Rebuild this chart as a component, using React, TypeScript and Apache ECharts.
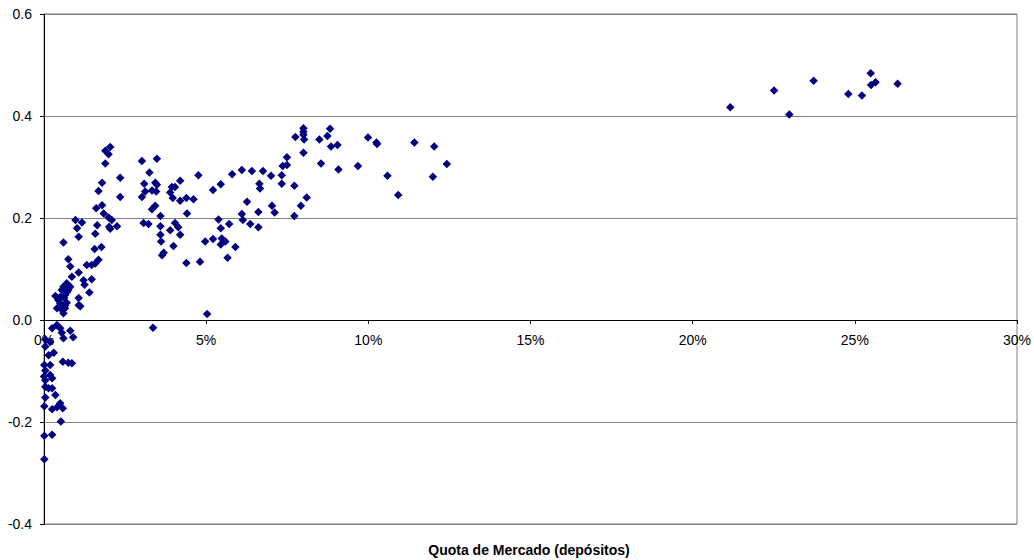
import React, { useEffect, useRef } from "react";
import * as echarts from "echarts";

// Market share (deposits), in %
const quota: number[] = [
  // 1–2.5% band
  2.04, 1.89, 1.99, 1.89, 2.35, 1.79, 1.68, 2.35, 1.79, 1.61, 1.84, 1.99, 2.09, 2.04, 2.25, 2.01,
  0.97, 1.17, 1.02, 1.07, 1.64, 1.58, 0.60, 1.77, 1.56, 0.75, 0.81, 1.68, 1.58, 1.47, 1.32,
  0.86, 1.07, 1.47, 1.22, 1.25, 1.40, 0.70, 0.60, 0.55, 0.75, 0.35, 0.65, 1.07, 0.40, 0.55,
  0.60, 1.12, 0.70, 0.50, 0.62, 0.71, 0.81, 0.44, 0.65, 0.50, 1.07, 0.65,
  // negative cluster near 0%
  0.40, 0.50, 0.55, 0.60, 0.81, 0.90, 0.25, 0.19, 0.04, 0.04, 0.30, 0.14, 0.58, 0.75, 0.86,
  0.01, 0.19, 0.04, 0.00, 0.19, 0.04, 0.25, 0.04, 0.14, 0.25, 0.04, 0.35, 0.50, 0.40, 0.25,
  0.58, 0.01, 0.52, 0.01, 0.25, 0.01,
  // 3–7.5% band
  3.02, 3.48, 3.25, 3.09, 3.43, 3.48, 3.12, 3.33, 3.46, 3.02, 3.94, 4.04, 4.20, 3.89, 3.97,
  4.20, 4.39, 4.61, 4.76, 3.43, 3.33, 4.41, 3.59, 3.07, 3.22, 3.59, 4.04, 4.14, 3.89, 4.20,
  3.59, 3.61, 3.99, 3.69, 3.64, 4.39, 4.81, 4.97, 5.21, 5.21, 5.45, 5.80, 6.10, 6.41, 6.75,
  7.00, 7.33, 7.36, 7.49, 7.49, 6.64, 6.66, 7.33, 6.26, 6.10, 6.13, 6.36, 6.61, 6.61, 7.03,
  7.11, 5.38, 5.45, 5.71, 5.48, 5.59, 5.45, 5.66, 5.90, 5.03, 3.36,
  // 7.5–12.5% band
  7.75, 8.00, 8.00, 8.00, 8.02, 8.00, 7.72, 8.10, 7.92, 7.72, 8.49, 8.74, 8.82, 8.85, 9.05,
  8.54, 9.08, 9.68, 9.99, 10.25, 10.27, 10.59, 10.92, 11.42, 12.03, 11.99, 12.42,
  // large banks
  21.16, 22.51, 22.98, 23.73, 24.80, 25.22, 25.49, 25.50, 25.64, 26.32,
];

const valor: number[] = [
  0.339, 0.332, 0.325, 0.307, 0.279, 0.269, 0.253, 0.241, 0.225, 0.219, 0.209, 0.201, 0.196, 0.179, 0.184, 0.183,
  0.196, 0.191, 0.180, 0.163, 0.186, 0.169, 0.152, 0.143, 0.139, 0.119, 0.105, 0.118, 0.111, 0.108, 0.108,
  0.085, 0.093, 0.080, 0.078, 0.069, 0.054, 0.072, 0.065, 0.059, 0.059, 0.047, 0.049, 0.043, 0.023, 0.020,
  0.013, 0.027, 0.034, 0.033, 0.043, 0.055, 0.065, 0.039, 0.029, 0.045, 0.029, 0.023,
  -0.010, -0.016, -0.025, -0.036, -0.021, -0.034, -0.016, -0.043, -0.038, -0.052, -0.064, -0.069, -0.082, -0.084, -0.085,
  -0.088, -0.088, -0.099, -0.111, -0.108, -0.118, -0.114, -0.131, -0.134, -0.134, -0.152, -0.147, -0.163, -0.171, -0.175,
  -0.173, -0.169, -0.199, -0.227, -0.225, -0.273,
  0.312, 0.316, 0.289, 0.267, 0.269, 0.265, 0.252, 0.254, 0.252, 0.241, 0.261, 0.261, 0.273, 0.250, 0.239,
  0.234, 0.239, 0.237, 0.284, 0.224, 0.217, 0.209, 0.204, 0.190, 0.188, 0.184, 0.190, 0.182, 0.176, 0.167,
  0.167, 0.154, 0.145, 0.132, 0.127, 0.112, 0.114, 0.154, 0.159, 0.255, 0.266, 0.286, 0.294, 0.292, 0.292,
  0.283, 0.284, 0.302, 0.319, 0.304, 0.267, 0.258, 0.267, 0.232, 0.208, 0.196, 0.188, 0.212, 0.182, 0.224,
  0.211, 0.197, 0.180, 0.188, 0.160, 0.154, 0.148, 0.122, 0.143, 0.012, -0.015,
  0.359, 0.376, 0.369, 0.363, 0.354, 0.328, 0.263, 0.240, 0.224, 0.204, 0.354, 0.361, 0.375, 0.340, 0.343,
  0.307, 0.295, 0.302, 0.358, 0.348, 0.345, 0.283, 0.245, 0.348, 0.340, 0.281, 0.306,
  0.417, 0.450, 0.403, 0.469, 0.443, 0.440, 0.484, 0.461, 0.466, 0.463,
];

const xTicks = { min: 0, max: 30, interval: 5 };
const yTicks = { min: -0.4, max: 0.6, interval: 0.2 };
const xTitle = "Quota de Mercado (depósitos)";

const FONT = "Liberation Sans, Arial, sans-serif";
const GRID = { left: 44, right: 17, top: 14, bottom: 36 };
const HEIGHT = 560;

export default function App() {
  const ref = useRef<HTMLDivElement>(null);
  useEffect(() => {
    if (!ref.current) return;
    const chart = echarts.init(ref.current, null, { renderer: "svg" });
    const data = quota.map((q, i) => [q, valor[i]]);
    // pixel distance between the bottom of the plot and the y = 0 line
    const plotH = HEIGHT - GRID.top - GRID.bottom;
    const zeroOffset = (plotH * (0 - yTicks.min)) / (yTicks.max - yTicks.min);
    chart.setOption({
      animation: false,
      backgroundColor: "#ffffff",
      grid: {
        ...GRID,
        show: true,
        borderColor: "#808080",
        borderWidth: 1,
        backgroundColor: "transparent",
      },
      xAxis: {
        type: "value",
        position: "bottom",
        offset: -zeroOffset,
        min: xTicks.min,
        max: xTicks.max,
        interval: xTicks.interval,
        axisLine: { show: true, onZero: false, lineStyle: { color: "#000000", width: 1 } },
        axisTick: { show: true, length: 4, lineStyle: { color: "#000000" } },
        axisLabel: {
          formatter: (v: number) => `${v}%`,
          color: "#000000",
          fontSize: 14,
          fontFamily: FONT,
          margin: 13,
        },
        splitLine: { show: false },
      },
      yAxis: {
        type: "value",
        min: yTicks.min,
        max: yTicks.max,
        interval: yTicks.interval,
        axisLine: { show: true, onZero: false, lineStyle: { color: "#000000", width: 1 } },
        axisTick: { show: true, length: 4, lineStyle: { color: "#000000" } },
        axisLabel: {
          formatter: (v: number) => (Math.abs(v) < 1e-9 ? "0.0" : v.toFixed(1)),
          color: "#000000",
          fontSize: 14,
          fontFamily: FONT,
          margin: 12,
        },
        splitLine: { show: true, lineStyle: { color: "#808080", width: 1 } },
      },
      graphic: [
        {
          type: "text",
          x: 529,
          y: 550,
          style: {
            text: xTitle,
            textAlign: "center",
            textVerticalAlign: "middle",
            font: `bold 14px ${FONT}`,
            fill: "#000000",
          },
        },
      ],
      series: [
        {
          type: "scatter",
          symbol: "diamond",
          symbolSize: 8.5,
          itemStyle: { color: "#000080", opacity: 1 },
          data,
        },
      ],
    });
    return () => chart.dispose();
  }, []);
  return <div ref={ref} style={{ width: 1034, height: 560, position: "absolute", left: 0, top: 0 }} />;
}
